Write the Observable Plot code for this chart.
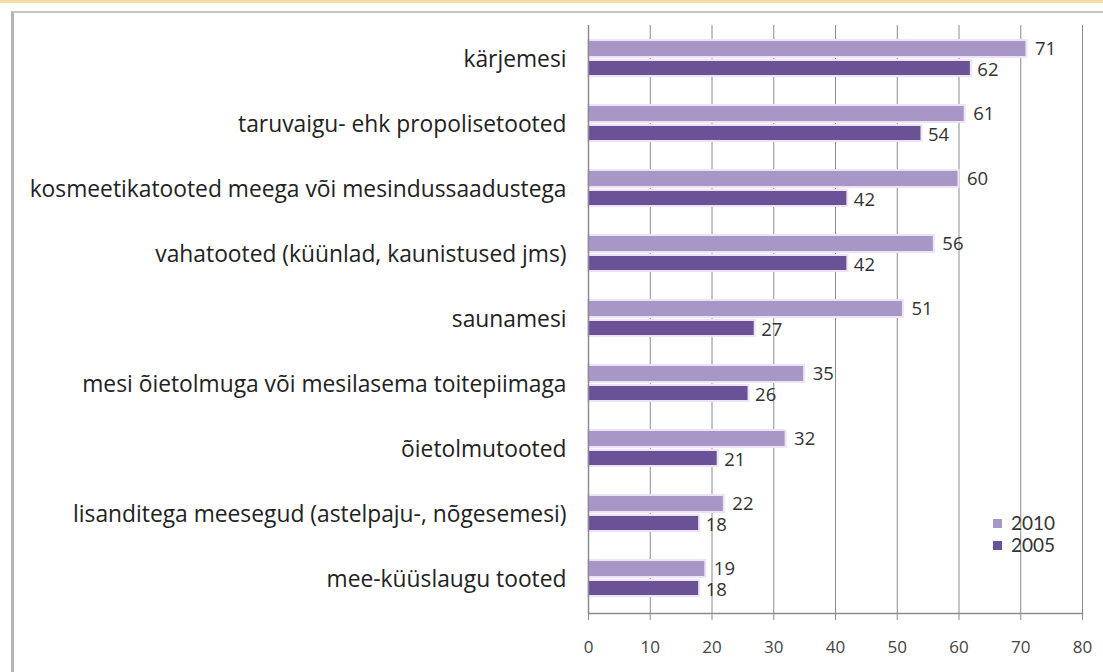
<!DOCTYPE html>
<html><head><meta charset="utf-8">
<script src="https://cdn.jsdelivr.net/npm/d3@7"></script>
<script src="https://cdn.jsdelivr.net/npm/@observablehq/plot@0.6"></script>
<style>
body{margin:0;background:#fff;width:1103px;height:672px;overflow:hidden;position:relative;font-family:"Open Sans",sans-serif}
#topline{position:absolute;left:0;top:0;width:1103px;height:3px;background:#f3dca8}
#frame{position:absolute;left:11px;top:11px;width:1120px;height:700px;border-left:3px solid #b4b4b4;border-top:2px solid #c4c4cc}
#chart{position:absolute;left:0;top:0}
#legend{position:absolute;left:993px;top:512px;font-family:Lato,sans-serif;font-size:19px;color:#333}
#legend div{display:flex;align-items:center;height:22px;line-height:18px}
#legend span.sw{display:inline-block;width:9px;height:9px;margin-right:9px}
</style></head><body>
<div id="topline"></div>
<div id="frame"></div>
<div id="chart"></div>
<div id="legend"></div>
<script>
const categories = [
  "kärjemesi",
  "taruvaigu- ehk propolisetooted",
  "kosmeetikatooted meega või mesindussaadustega",
  "vahatooted (küünlad, kaunistused jms)",
  "saunamesi",
  "mesi õietolmuga või mesilasema toitepiimaga",
  "õietolmutooted",
  "lisanditega meesegud (astelpaju-, nõgesemesi)",
  "mee-küüslaugu tooted"
];
const values2010 = [71, 61, 60, 56, 51, 35, 32, 22, 19];
const values2005 = [62, 54, 42, 42, 27, 26, 21, 18, 18];
const seriesNames = ["2010", "2005"];
const seriesColors = ["#a797c7", "#6b5296"];
const xTicks = [0, 10, 20, 30, 40, 50, 60, 70, 80];

const data = categories.map((c, i) => ({cat: c, v2010: values2010[i], v2005: values2005[i]}));

const chart = Plot.plot({
  width: 1103,
  height: 672,
  marginLeft: 588,
  marginRight: 21,
  marginTop: 25,
  marginBottom: 59,
  style: {fontFamily: "'Open Sans', sans-serif", color: "#333", background: "transparent"},
  x: {domain: [0, 80], ticks: xTicks},
  y: {domain: categories, padding: 0},
  marks: [
    Plot.ruleX(xTicks.slice(1), {stroke: "#8c8c8c", strokeWidth: 1}),
    Plot.barX(data, {x: "v2010", y: "cat", insetTop: 13, insetBottom: 35, fill: seriesColors[0], stroke: "#efe2f6", strokeWidth: 2}),
    Plot.barX(data, {x: "v2005", y: "cat", insetTop: 33, insetBottom: 16, fill: seriesColors[1], stroke: "#efe2f6", strokeWidth: 2}),
    Plot.text(data, {x: "v2010", y: "cat", text: d => String(d.v2010), dx: 8, dy: -10.5, textAnchor: "start", fontSize: 18.5, fill: "#333"}),
    Plot.text(data, {x: "v2005", y: "cat", text: d => String(d.v2005), dx: 6, dy: 10.5, textAnchor: "start", fontSize: 18.5, fill: "#333"}),
    Plot.ruleX([0], {stroke: "#8c8c8c", strokeWidth: 1.5}),
    Plot.frame({anchor: "bottom", stroke: "#8c8c8c", strokeWidth: 1.5}),
    Plot.axisY({tickSize: 0, tickPadding: 22, fontSize: 22.8, label: null, fill: "#222"}),
    Plot.axisX({ticks: xTicks, tickSize: 7, tickPadding: 20, fontSize: 17, label: null, stroke: "#8c8c8c", fill: "#444"})
  ]
});
document.getElementById("chart").appendChild(chart);

const legend = document.getElementById("legend");
seriesNames.forEach((n, i) => {
  const row = document.createElement("div");
  row.innerHTML = `<span class="sw" style="background:${seriesColors[i]}"></span><span>${n}</span>`;
  legend.appendChild(row);
});
</script>
</body></html>
